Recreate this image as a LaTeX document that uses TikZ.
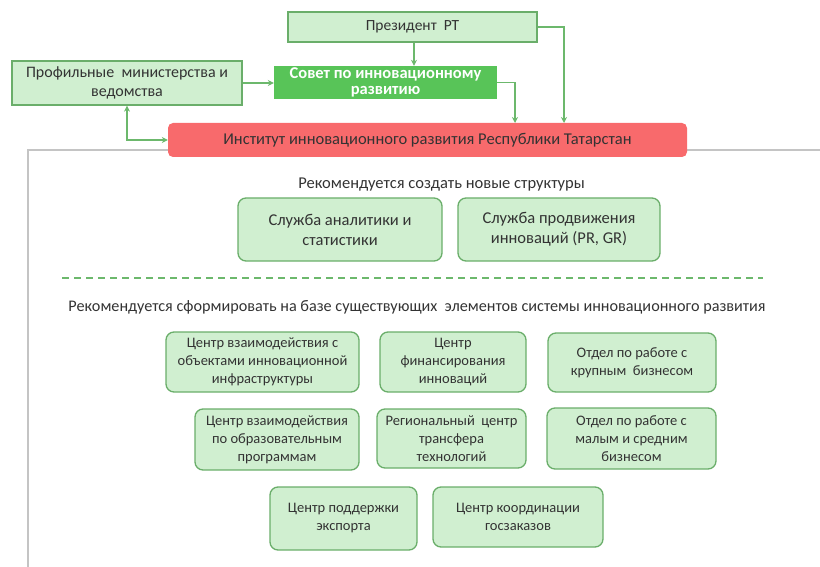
\documentclass[tikz,border=0pt]{standalone}
\usepackage{fontspec}
\setmainfont{Carlito}
\usetikzlibrary{arrows.meta}
\definecolor{lgreen}{HTML}{D0EFD0}
\definecolor{bgreen}{HTML}{6AAE6A}
\definecolor{sgreen}{HTML}{58C458}
\definecolor{rred}{HTML}{F86A6C}
\definecolor{agreen}{HTML}{6CB86C}
\definecolor{fgray}{HTML}{C4C4C4}
\definecolor{tgray}{HTML}{333333}
\begin{document}
\begin{tikzpicture}[x=1pt,y=-1pt,
  txt/.style={font=\fontsize{14.5}{18}\selectfont, text=tgray},
  bigtxt/.style={font=\fontsize{16.5}{20}\selectfont, text=tgray},
  sqbox/.style={draw=bgreen, fill=lgreen, line width=1.3pt, align=center, inner sep=1pt},
  rbox/.style={txt, draw=bgreen, fill=lgreen, line width=1.3pt, align=center, inner sep=1pt, rounded corners=8pt},
  arr/.style={draw=agreen, line width=1.3pt, -{Stealth[length=6pt,width=6pt]}},
  darr/.style={draw=agreen, line width=1.3pt, {Stealth[length=6pt,width=6pt]}-{Stealth[length=6pt,width=6pt]}},
  ]
\useasboundingbox (0,0) rectangle (820,567);
% frame
\draw[fgray, line width=1.5pt] (168,150) -- (28,150) -- (28,567);
\draw[fgray, line width=1.5pt] (687,150) -- (820,150);
% top nodes
\node[sqbox, text=tgray, font=\fontsize{15.5}{18}\selectfont, minimum width=249pt, minimum height=30pt] (pres) at (412.5,27) {Президент\ \ РТ};
\node[fill=sgreen, text=white, font=\fontsize{16.5}{16}\selectfont\bfseries, align=center, minimum width=223pt, minimum height=33pt, inner sep=0pt] (sov) at (385.5,82.5) {Совет по инновационному\\развитию};
\node[sqbox, text=tgray, font=\fontsize{16}{19}\selectfont, minimum width=230pt, minimum height=44pt] (prof) at (127,83) {Профильные\ \ министерства и\\ведомства};
\node[bigtxt, fill=rred, rounded corners=5pt, minimum width=519pt, minimum height=34pt] (inst) at (427.5,140) {Институт инновационного развития Республики Татарстан};
\coordinate (pin) at (564,123);
\coordinate (sin) at (515,123);
% arrows
\draw[arr] (pres.south -| 414,0) -- (sov.north -| 414,0);
\draw[arr] (pres.east) -| (pin);
\draw[arr] (sov.east) -| (sin);
\draw[arr] (prof.east |- 0,83) -- (sov.west |- 0,83);
\draw[darr] (prof.south) |- (inst.west);
% new structures
\node[bigtxt] (h1) at (441.5,185) {Рекомендуется создать новые структуры};
\node[rbox, bigtxt, minimum width=204pt, minimum height=63pt] (s1) at (340,229.5) {Служба аналитики и\\статистики};
\node[rbox, bigtxt, minimum width=202pt, minimum height=63pt] (s2) at (559,229.5) {Служба продвижения\\инноваций (PR, GR)};
\draw[agreen, line width=1.6pt, dash pattern=on 7pt off 5pt] (62,278) -- (763,278);
\node[bigtxt, font=\fontsize{16.2}{20}\selectfont] (h2) at (417,307) {Рекомендуется сформировать на базе существующих\ \ элементов системы инновационного развития};
% existing elements
\node[rbox, minimum width=193pt, minimum height=60pt] (a) at (262.5,362) {Центр взаимодействия с\\объектами инновационной\\инфраструктуры};
\node[rbox, minimum width=146pt, minimum height=60pt] (b) at (453,362) {Центр\\финансирования\\инноваций};
\node[rbox, minimum width=168pt, minimum height=59pt] (c) at (632,362.5) {Отдел по работе с\\крупным\ \ бизнесом};
\node[rbox, minimum width=164pt, minimum height=61pt] (d) at (277,439.5) {Центр взаимодействия\\по образовательным\\программам};
\node[rbox, minimum width=149pt, minimum height=59pt] (e) at (451.5,438.5) {Региональный\ \ центр\\трансфера\\технологий};
\node[rbox, minimum width=169pt, minimum height=61pt] (f) at (631.5,438.5) {Отдел по работе с\\малым и средним\\бизнесом};
\node[rbox, minimum width=147pt, minimum height=63pt] (g) at (343.5,518.5) {Центр поддержки\\экспорта};
\node[rbox, minimum width=170pt, minimum height=60pt] (h) at (518,517) {Центр координации\\госзаказов};
\end{tikzpicture}
\end{document}
